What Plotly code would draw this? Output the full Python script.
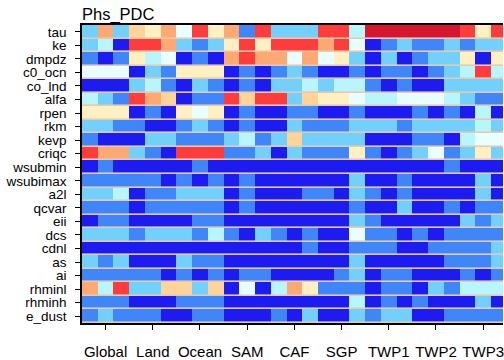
import plotly.graph_objects as go

# Row (parameter) names, top to bottom
params = ["tau", "ke", "dmpdz", "c0_ocn", "co_lnd", "alfa", "rpen", "rkm", "kevp",
          "criqc", "wsubmin", "wsubimax", "a2l", "qcvar", "eii", "dcs", "cdnl", "as",
          "ai", "rhminl", "rhminh", "e_dust"]

# Region groups (3 sub-columns each)
regions = ["Global", "Land", "Ocean", "SAM", "CAF", "SGP", "TWP1", "TWP2", "TWP3"]
n_sub = 3

# Colour levels: 0 dark blue ... 9 dark red
level_colors = ["#1c1cf2", "#3f86fa", "#72d0fc", "#b8f6fe", "#e9fefe",
                "#fef0c0", "#fed498", "#fea874", "#fe3c3c", "#d6162e"]

tau      = [2, 7, 2, 6, 5, 7, 4, 8, 5, 7, 1, 8, 2, 2, 2, 8, 8, 3, 9, 9, 9, 9, 9, 9, 8, 5, 8]
ke       = [2, 3, 0, 8, 8, 7, 2, 1, 2, 5, 8, 5, 8, 8, 8, 7, 8, 4, 0, 1, 2, 1, 1, 2, 1, 2, 2]
dmpdz    = [1, 0, 1, 5, 3, 4, 0, 1, 0, 7, 8, 7, 7, 4, 7, 4, 5, 2, 0, 2, 0, 1, 2, 2, 5, 0, 5]
c0_ocn   = [4, 4, 4, 0, 2, 1, 5, 5, 5, 0, 1, 0, 1, 2, 1, 0, 0, 1, 0, 1, 1, 0, 1, 2, 3, 8, 3]
co_lnd   = [0, 0, 0, 2, 3, 1, 0, 2, 1, 0, 1, 0, 2, 2, 3, 2, 3, 3, 1, 0, 1, 0, 0, 2, 2, 2, 2]
alfa     = [3, 2, 1, 8, 7, 6, 0, 1, 1, 8, 6, 8, 8, 2, 6, 5, 5, 4, 3, 3, 4, 4, 4, 3, 2, 1, 1]
rpen     = [5, 5, 5, 0, 1, 0, 5, 4, 5, 0, 1, 0, 0, 1, 1, 0, 0, 1, 0, 0, 0, 1, 0, 1, 0, 3, 0]
rkm      = [2, 2, 1, 1, 0, 0, 1, 2, 1, 0, 1, 0, 0, 2, 1, 1, 1, 2, 2, 2, 1, 2, 2, 2, 2, 3, 2]
kevp     = [1, 0, 0, 0, 2, 2, 1, 1, 1, 2, 3, 1, 2, 6, 2, 2, 2, 2, 0, 0, 0, 1, 1, 0, 3, 4, 4]
criqc    = [8, 7, 7, 2, 1, 0, 8, 8, 8, 1, 1, 2, 0, 2, 1, 1, 1, 5, 1, 0, 1, 2, 4, 1, 2, 5, 2]
wsubmin  = [0, 1, 0, 0, 0, 0, 0, 1, 0, 0, 0, 0, 0, 0, 0, 0, 0, 0, 0, 0, 0, 0, 0, 1, 0, 0, 0]
wsubimax = [1, 1, 1, 1, 1, 0, 1, 0, 1, 0, 1, 0, 0, 0, 0, 0, 0, 2, 0, 0, 1, 0, 0, 0, 0, 2, 0]
a2l      = [2, 2, 3, 0, 1, 1, 2, 2, 2, 0, 1, 0, 0, 0, 1, 1, 0, 2, 1, 0, 1, 0, 0, 0, 0, 2, 0]
qcvar    = [1, 1, 1, 0, 1, 1, 1, 1, 1, 0, 1, 0, 0, 0, 0, 0, 0, 1, 0, 0, 2, 0, 0, 1, 0, 1, 1]
eii      = [0, 1, 1, 0, 0, 0, 0, 1, 1, 0, 0, 0, 0, 0, 0, 0, 0, 2, 1, 0, 0, 0, 0, 0, 2, 1, 2]
dcs      = [2, 2, 2, 1, 2, 2, 2, 1, 3, 1, 0, 2, 1, 0, 1, 0, 0, 4, 1, 1, 0, 1, 0, 1, 1, 1, 1]
cdnl     = [0, 0, 0, 0, 0, 0, 0, 0, 0, 0, 0, 0, 0, 0, 1, 0, 0, 1, 1, 1, 0, 0, 1, 1, 1, 1, 2]
as_      = [2, 1, 2, 0, 0, 0, 2, 1, 1, 0, 0, 0, 0, 0, 0, 0, 0, 2, 0, 0, 0, 0, 0, 1, 1, 1, 2]
ai       = [1, 1, 1, 1, 1, 0, 1, 0, 1, 0, 1, 1, 0, 0, 0, 0, 1, 2, 0, 1, 1, 0, 0, 0, 1, 0, 1]
rhminl   = [7, 3, 8, 2, 2, 6, 6, 2, 6, 0, 4, 0, 3, 7, 5, 1, 1, 1, 0, 1, 1, 0, 2, 1, 3, 3, 3]
rhminh   = [1, 1, 1, 0, 0, 0, 1, 1, 1, 0, 0, 0, 0, 0, 0, 0, 0, 3, 0, 1, 0, 1, 0, 0, 0, 2, 0]
e_dust   = [1, 2, 1, 1, 1, 0, 0, 1, 1, 0, 0, 0, 1, 0, 2, 0, 0, 2, 1, 2, 2, 0, 0, 1, 1, 1, 1]

rows = [tau, ke, dmpdz, c0_ocn, co_lnd, alfa, rpen, rkm, kevp, criqc, wsubmin, wsubimax,
        a2l, qcvar, eii, dcs, cdnl, as_, ai, rhminl, rhminh, e_dust]

n_cols = len(regions) * n_sub
cols = list(range(n_cols))

nlev = len(level_colors)
colorscale = []
for i, c in enumerate(level_colors):
    colorscale.append([i / nlev, c])
    colorscale.append([(i + 1) / nlev, c])

fig = go.Figure(go.Heatmap(
    z=rows, x=cols, y=params,
    colorscale=colorscale, zmin=-0.5, zmax=nlev - 0.5,
    showscale=False, ygap=1.6, hoverinfo="skip",
))

font_main = "Liberation Sans, Arial, Helvetica, sans-serif"
tickvals = [i * n_sub + (n_sub - 1) / 2 for i in range(len(regions))]
xrange = [-0.5, 26.26]

fig.update_layout(
    width=504, height=360,
    margin=dict(l=82, r=0, t=25, b=34),
    paper_bgcolor="white", plot_bgcolor="#ecc8aa",
    font=dict(family=font_main, color="black"),
    title=dict(text="Phs_PDC", x=82 / 504, xref="container", xanchor="left",
               y=1 - 14.5 / 360, yref="container", yanchor="middle",
               font=dict(size=16.5, family=font_main)),
    xaxis=dict(range=xrange, tickmode="array", tickvals=tickvals, ticktext=regions,
               tickangle=0, ticklabeloverflow="allow",
               ticks="outside", ticklen=5, tickwidth=1.2, tickcolor="black",
               showline=True, linecolor="black", linewidth=1.5, mirror=True,
               showgrid=False, zeroline=False, tickfont=dict(size=15),
               ticklabelstandoff=9),
    xaxis2=dict(range=xrange, overlaying="x", tickmode="array", tickvals=tickvals,
                ticks="inside", ticklen=4, tickwidth=1.2, tickcolor="black",
                showticklabels=False, showgrid=False, zeroline=False, showline=False,
                side="bottom", anchor="y"),
    yaxis=dict(range=[len(params) - 0.5, -0.5], type="category", tickmode="array",
               tickvals=params, ticktext=params,
               ticks="outside", ticklen=5, tickwidth=1.2, tickcolor="black",
               showline=True, linecolor="black", linewidth=1.5,
               showgrid=False, zeroline=False, tickfont=dict(size=13.5),
               ticklabelstandoff=6),
)

fig.write_html("out.html")
